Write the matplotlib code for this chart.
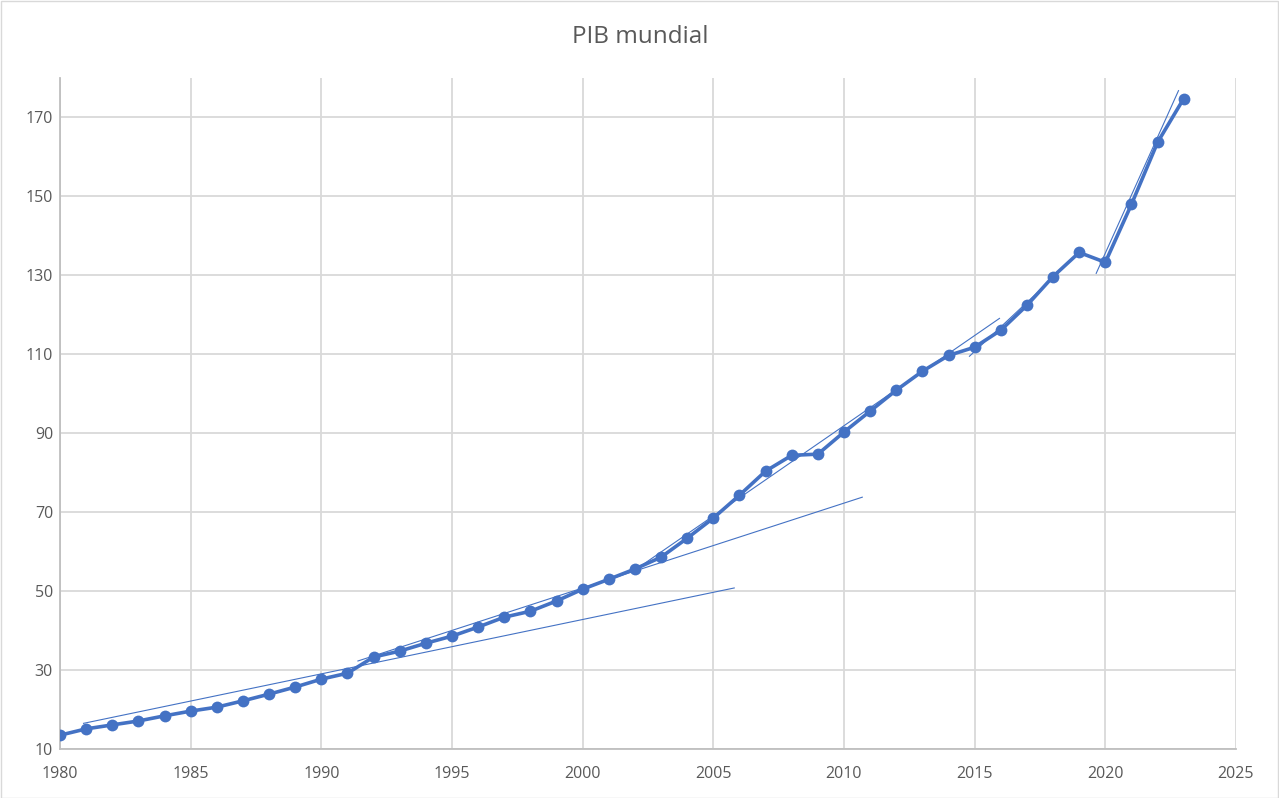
import matplotlib
matplotlib.use("Agg")
import matplotlib.pyplot as plt
from matplotlib.patches import Rectangle

years = list(range(1980, 2024))
gdp = [13.5, 15.1, 16.1, 17.1, 18.4, 19.6, 20.6, 22.2, 23.9, 25.7,
       27.7, 29.2, 33.3, 34.8, 36.8, 38.6, 40.9, 43.4, 44.9, 47.5,
       50.5, 53.0, 55.6, 58.6, 63.4, 68.5, 74.3, 80.4, 84.4, 84.7,
       90.3, 95.6, 100.9, 105.7, 109.7, 111.8, 116.1, 122.4, 129.7, 135.8,
       133.3, 148.0, 163.7, 174.8]

# thin guide lines (start year, start value, end year, end value)
guide_x0 = [1980.9, 1991.4, 2002.1, 2014.8, 2019.65]
guide_y0 = [16.5, 32.3, 55.8, 109.5, 130.5]
guide_x1 = [2005.8, 2010.7, 2015.95, 2018.2, 2022.8]
guide_y1 = [50.8, 73.8, 119.1, 130.6, 176.8]

xticks = list(range(1980, 2030, 5))
yticks = list(range(10, 180, 20))
title = "PIB mundial"

color = "#4472C4"
txt = "#595959"
plt.rcParams['font.family'] = ['Open Sans', 'DejaVu Sans']

fig = plt.figure(figsize=(12.79, 7.98), dpi=100)
W, H = 1279, 798
ax = fig.add_axes([60 / W, (H - 749) / H, (1236 - 60) / W, (749 - 78) / H])

ax.plot(years, gdp, color=color, lw=2.6, marker='o', markersize=8.5,
        markeredgewidth=0, zorder=3)
for a, b, c, d in zip(guide_x0, guide_y0, guide_x1, guide_y1):
    ax.plot([a, c], [b, d], color=color, lw=0.8, zorder=4)

ax.set_xlim(1980, 2025)
ax.set_ylim(10, 180)
ax.set_xticks(xticks)
ax.set_yticks(yticks)
ax.grid(True, color='#D9D9D9', lw=1.3, zorder=0)
ax.set_axisbelow(True)
for s in ['top', 'right']:
    ax.spines[s].set_visible(False)
for s in ['left', 'bottom']:
    ax.spines[s].set_color('#BFBFBF')
    ax.spines[s].set_linewidth(1.3)
ax.tick_params(length=0, labelsize=11.5, colors=txt)
ax.tick_params(axis='x', pad=12)
ax.tick_params(axis='y', pad=5)

fig.text(640 / W, 1 - 37 / H, title, ha='center', va='center',
         fontsize=17.5, color=txt)
fig.patches.append(Rectangle((0.5 / W, 0.5 / H), 1 - 1.5 / W, 1 - 1.5 / H,
                             transform=fig.transFigure, fill=False,
                             edgecolor='#D9D9D9', lw=1))

fig.savefig("out.png", dpi=100)
